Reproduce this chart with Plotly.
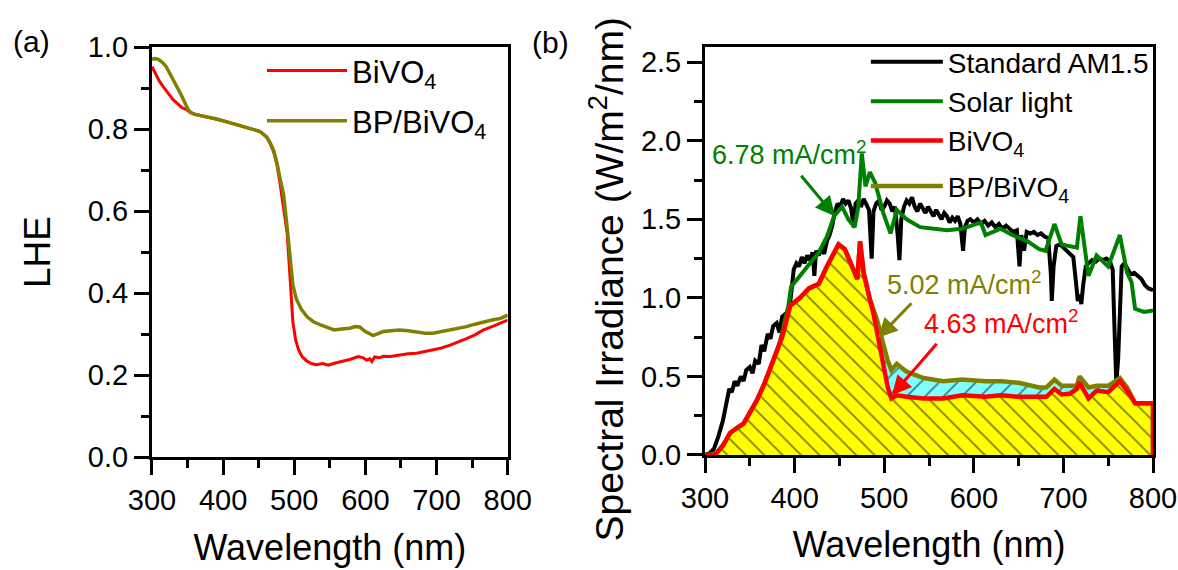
import plotly.graph_objects as go

# ---------------- Panel (a): LHE ----------------
lhe_wl_bivo4 = [300, 305, 310, 316, 322, 330, 336, 342, 348, 354, 360, 370, 380, 390, 400, 415, 430, 445,
                452, 461, 466, 471, 476, 480, 485, 490, 494, 498, 502, 506, 511, 517, 524, 531, 540, 548,
                555, 565, 578, 590, 597, 602, 606, 609, 613, 620, 625, 635, 648, 660, 672, 685, 695, 707,
                719, 730, 742, 754, 766, 778, 790, 800]
lhe_bivo4 = [0.952, 0.935, 0.918, 0.903, 0.890, 0.871, 0.862, 0.852, 0.848, 0.840, 0.836, 0.832, 0.829,
             0.825, 0.820, 0.813, 0.806, 0.798, 0.794, 0.781, 0.765, 0.745, 0.710, 0.668, 0.600, 0.546,
             0.440, 0.330, 0.285, 0.262, 0.245, 0.235, 0.228, 0.225, 0.228, 0.224, 0.228, 0.232, 0.238,
             0.245, 0.242, 0.236, 0.240, 0.233, 0.244, 0.242, 0.246, 0.245, 0.249, 0.252, 0.253, 0.258,
             0.261, 0.266, 0.273, 0.280, 0.289, 0.298, 0.310, 0.318, 0.326, 0.334]

lhe_wl_bp = [300, 305, 309, 315, 320, 325, 330, 336, 342, 347, 351, 355, 360, 370, 380, 390, 400, 415, 430,
             445, 452, 461, 466, 471, 476, 480, 485, 490, 494, 498, 503, 510, 518, 527, 537, 546, 556, 566,
             578, 586, 592, 600, 606, 611, 616, 625, 636, 648, 660, 672, 684, 695, 707, 719, 730, 742, 754,
             766, 778, 790, 800]
lhe_bp = [0.970, 0.972, 0.970, 0.962, 0.952, 0.937, 0.920, 0.900, 0.880, 0.862, 0.847, 0.840, 0.836, 0.832,
          0.829, 0.825, 0.820, 0.813, 0.806, 0.798, 0.794, 0.781, 0.767, 0.748, 0.715, 0.680, 0.640, 0.560,
          0.480, 0.420, 0.385, 0.360, 0.342, 0.330, 0.322, 0.316, 0.310, 0.312, 0.314, 0.318, 0.317, 0.306,
          0.300, 0.296, 0.300, 0.306, 0.308, 0.310, 0.308, 0.305, 0.302, 0.302, 0.306, 0.310, 0.314, 0.318,
          0.324, 0.330, 0.334, 0.338, 0.346]

# ---------------- Panel (b): spectral irradiance ----------------
am15_wl = [300, 305, 310, 315, 320, 324, 327, 330, 333, 336, 340, 343, 346, 350, 353, 356, 360, 363, 366,
           370, 373, 376, 380, 383, 386, 390, 393, 396, 399, 402, 405, 408, 411, 414, 417, 420, 422, 424,
           427, 430, 433, 436, 439, 442, 445, 448, 451, 454, 457, 460, 463, 466, 468, 471, 474, 477, 480,
           483, 486, 488, 491, 494, 497, 500, 503, 506, 509, 512, 515, 517, 519, 522, 525, 528, 531, 534,
           537, 540, 543, 546, 549, 552, 555, 558, 561, 564, 567, 570, 573, 576, 579, 582, 585, 588, 590,
           593, 596, 600, 604, 608, 612, 616, 620, 624, 628, 632, 636, 640, 644, 648, 651, 653, 656, 659,
           663, 667, 671, 675, 679, 683, 686, 687, 689, 692, 696, 700, 704, 708, 711, 714, 716, 718, 720,
           722, 725, 728, 732, 736, 740, 744, 748, 752, 755, 757, 759, 761, 763, 765, 768, 771, 775, 779,
           783, 787, 791, 795, 800]
am15 = [0.00, 0.01, 0.04, 0.12, 0.22, 0.32, 0.42, 0.40, 0.47, 0.44, 0.50, 0.47, 0.54, 0.56, 0.52, 0.60,
        0.58, 0.70, 0.66, 0.77, 0.74, 0.82, 0.84, 0.78, 0.88, 0.90, 0.86, 1.02, 1.18, 1.22, 1.20, 1.26,
        1.22, 1.27, 1.24, 1.29, 1.14, 1.30, 1.27, 1.32, 1.28, 1.36, 1.40, 1.46, 1.55, 1.60, 1.58, 1.63,
        1.60, 1.62, 1.57, 1.45, 1.60, 1.62, 1.58, 1.63, 1.60, 1.56, 1.25, 1.55, 1.60, 1.62, 1.56, 1.58,
        1.62, 1.60, 1.55, 1.58, 1.40, 1.24, 1.50, 1.58, 1.62, 1.60, 1.64, 1.58, 1.55, 1.60, 1.57, 1.54,
        1.58, 1.55, 1.52, 1.56, 1.53, 1.50, 1.54, 1.52, 1.48, 1.51, 1.49, 1.52, 1.47, 1.30, 1.45, 1.49,
        1.50, 1.48, 1.50, 1.47, 1.49, 1.46, 1.48, 1.45, 1.47, 1.44, 1.46, 1.44, 1.42, 1.43, 1.20, 1.40,
        1.30, 1.42, 1.41, 1.42, 1.40, 1.41, 1.39, 1.38, 1.15, 0.98, 1.20, 1.33, 1.34, 1.32, 1.30, 1.28,
        1.26, 1.10, 0.98, 1.02, 0.96, 1.08, 1.20, 1.22, 1.24, 1.23, 1.25, 1.24, 1.25, 1.23, 1.18, 0.80,
        0.46, 0.60, 1.00, 1.20, 1.22, 1.19, 1.15, 1.16, 1.14, 1.12, 1.08, 1.06, 1.05]

solar_wl = [305, 315, 325, 336, 347, 355, 362, 373, 384, 393, 396, 406, 414, 427, 436, 444, 453, 460, 467,
            471, 475, 479, 484, 490, 499, 507, 514, 525, 540, 562, 570, 587, 608, 613, 630, 643, 660, 673,
            680, 690, 698, 715, 719, 728, 737, 750, 763, 771, 776, 780, 790, 800]
solar = [0.00, 0.02, 0.08, 0.13, 0.20, 0.30, 0.36, 0.52, 0.73, 0.95, 1.07, 1.14, 1.20, 1.29, 1.39, 1.52,
         1.58, 1.50, 1.45, 1.58, 1.92, 1.71, 1.80, 1.73, 1.54, 1.41, 1.56, 1.50, 1.45, 1.44, 1.43, 1.44,
         1.48, 1.40, 1.44, 1.40, 1.36, 1.31, 1.30, 1.47, 1.34, 1.32, 1.52, 1.14, 1.27, 1.20, 1.40, 1.16,
         1.10, 0.93, 0.91, 0.92]

irr_wl = [300, 311, 320, 328, 335, 343, 350, 358, 366, 374, 386, 395, 406, 416, 427, 436, 449, 456, 466,
          470, 473, 477, 484, 488, 492, 496, 500, 504, 508, 514, 525, 544, 566, 587, 613, 630, 650, 673,
          681, 690, 698, 707, 715, 718, 728, 737, 750, 763, 771, 780, 790, 797, 800, 800]
irr_bivo4 = [0.00, 0.00, 0.06, 0.14, 0.17, 0.20, 0.27, 0.35, 0.45, 0.57, 0.75, 0.95, 1.00, 1.06, 1.09,
             1.20, 1.34, 1.31, 1.16, 1.12, 1.36, 1.16, 0.99, 0.90, 0.78, 0.65, 0.52, 0.43, 0.36, 0.38,
             0.37, 0.36, 0.36, 0.38, 0.37, 0.38, 0.37, 0.37, 0.37, 0.42, 0.385, 0.39, 0.42, 0.46, 0.36,
             0.41, 0.40, 0.47, 0.41, 0.33, 0.33, 0.33, 0.33, 0.00]
irr_bp = [0.00, 0.00, 0.06, 0.14, 0.17, 0.20, 0.27, 0.35, 0.45, 0.57, 0.75, 0.95, 1.00, 1.06, 1.09,
          1.20, 1.34, 1.31, 1.16, 1.12, 1.36, 1.16, 0.99, 0.93, 0.86, 0.77, 0.68, 0.60, 0.54, 0.58,
          0.53, 0.49, 0.47, 0.48, 0.47, 0.47, 0.46, 0.43, 0.43, 0.48, 0.44, 0.44, 0.44, 0.50, 0.43,
          0.44, 0.44, 0.49, 0.43, 0.33, 0.33, 0.33, 0.33, 0.00]

x_ticks_a = [300, 400, 500, 600, 700, 800]
y_ticks_a = [0.0, 0.2, 0.4, 0.6, 0.8, 1.0]
y_ticks_b = [0.0, 0.5, 1.0, 1.5, 2.0, 2.5]

FONT = "Liberation Sans, Arial, sans-serif"
RED, OLIVE, GREEN = "#FF0000", "#808000", "#008000"

fig = go.Figure()

# panel (a)
fig.add_trace(go.Scatter(x=lhe_wl_bivo4, y=lhe_bivo4, mode="lines", name="BiVO<sub>4</sub>",
                         line=dict(color=RED, width=3), xaxis="x", yaxis="y",
                         legend="legend", legendgroup="a1"))
fig.add_trace(go.Scatter(x=lhe_wl_bp, y=lhe_bp, mode="lines", name="BP/BiVO<sub>4</sub>",
                         line=dict(color=OLIVE, width=3.5), xaxis="x", yaxis="y",
                         legend="legend", legendgroup="a2"))

# panel (b)
fig.add_trace(go.Scatter(x=am15_wl, y=am15, mode="lines", name="Standard AM1.5",
                         line=dict(color="black", width=4), xaxis="x2", yaxis="y2",
                         legend="legend2", legendgroup="b1", legendrank=1))
fig.add_trace(go.Scatter(x=solar_wl, y=solar, mode="lines", name="Solar light",
                         line=dict(color=GREEN, width=4), xaxis="x2", yaxis="y2",
                         legend="legend2", legendgroup="b1", legendrank=2))
fig.add_trace(go.Scatter(x=irr_wl, y=irr_bivo4, mode="lines", showlegend=False,
                         line=dict(color=RED, width=0), fill="tozeroy", fillcolor="#FFFF00",
                         fillpattern=dict(shape="\\", fgcolor="black", bgcolor="#FFFF00",
                                          size=13, solidity=0.14),
                         xaxis="x2", yaxis="y2", hoverinfo="skip"))
fig.add_trace(go.Scatter(x=irr_wl, y=irr_bp, mode="lines", showlegend=False,
                         line=dict(color=OLIVE, width=0), fill="tonexty", fillcolor="#80FFFF",
                         fillpattern=dict(shape="/", fgcolor="black", bgcolor="#80FFFF",
                                          size=13, solidity=0.14),
                         xaxis="x2", yaxis="y2", hoverinfo="skip"))
fig.add_trace(go.Scatter(x=irr_wl, y=irr_bp, mode="lines", name="BP/BiVO<sub>4</sub>",
                         line=dict(color=OLIVE, width=4.5), xaxis="x2", yaxis="y2",
                         legend="legend2", legendgroup="b2", legendrank=4))
fig.add_trace(go.Scatter(x=irr_wl, y=irr_bivo4, mode="lines", name="BiVO<sub>4</sub>",
                         line=dict(color=RED, width=4.5), xaxis="x2", yaxis="y2",
                         legend="legend2", legendgroup="b1", legendrank=3))

axis_common = dict(showgrid=False, zeroline=False, showline=True, linecolor="black", linewidth=3,
                   mirror=True, ticks="outside", ticklen=15, tickwidth=3, tickcolor="black",
                   automargin=False,
                   tickfont=dict(family=FONT, size=29, color="black"))

fig.update_layout(
    width=1178, height=570, margin=dict(l=0, r=0, t=0, b=0, autoexpand=False),
    paper_bgcolor="white", plot_bgcolor="white",
    font=dict(family=FONT, color="black"),
    xaxis=dict(domain=[0.129, 0.431], range=[300, 800], tickvals=x_ticks_a, anchor="y",
               minor=dict(dtick=50, ticks="outside", ticklen=8, tickwidth=3, tickcolor="black"),
               title=dict(text="Wavelength (nm)", font=dict(family=FONT, size=36), standoff=20),
               **axis_common),
    yaxis=dict(domain=[0.1982, 0.9175], range=[0, 1.0], tickvals=y_ticks_a, tickformat=".1f",
               anchor="x",
               minor=dict(dtick=0.1, ticks="outside", ticklen=8, tickwidth=3, tickcolor="black"),
               title=dict(text="LHE", font=dict(family=FONT, size=37), standoff=26),
               **axis_common),
    xaxis2=dict(domain=[0.5985, 0.9788], range=[300, 800], tickvals=x_ticks_a, anchor="y2",
                minor=dict(dtick=50, ticks="outside", ticklen=8, tickwidth=3, tickcolor="black"),
                title=dict(text="Wavelength (nm)", font=dict(family=FONT, size=36), standoff=20),
                **axis_common),
    yaxis2=dict(domain=[0.2018, 0.9184], range=[0, 2.6], tickvals=y_ticks_b, tickformat=".1f",
                anchor="x2",
                minor=dict(dtick=0.25, ticks="outside", ticklen=8, tickwidth=3, tickcolor="black"),
                **axis_common),
    legend=dict(x=0.2224, y=0.923, xanchor="left", yanchor="top", bgcolor="rgba(0,0,0,0)",
                font=dict(family=FONT, size=31, color="black"), tracegroupgap=7, itemwidth=80),
    legend2=dict(x=0.735, y=0.935, xanchor="left", yanchor="top", bgcolor="rgba(0,0,0,0)",
                 font=dict(family=FONT, size=28, color="black"), tracegroupgap=6, itemwidth=72),
    annotations=[
        dict(text="(a)", x=0.027, y=0.928, xref="paper", yref="paper", showarrow=False,
             xanchor="center", yanchor="middle", font=dict(size=30, family=FONT)),
        dict(text="(b)", x=0.4677, y=0.926, xref="paper", yref="paper", showarrow=False,
             xanchor="center", yanchor="middle", font=dict(size=30, family=FONT)),
        dict(text="Spectral Irradiance (W/m<sup>2</sup>/nm)", x=0.515, y=0.509, xref="paper",
             yref="paper", textangle=-90, showarrow=False, xanchor="center", yanchor="middle",
             font=dict(size=39, family=FONT)),
        dict(text="6.78 mA/cm<sup>2</sup>", x=0.6027, y=0.7316, xref="paper", yref="paper",
             xanchor="left", yanchor="middle", showarrow=False,
             font=dict(size=27, family=FONT, color=GREEN)),
        dict(text="5.02 mA/cm<sup>2</sup>", x=0.7513, y=0.5035, xref="paper", yref="paper",
             xanchor="left", yanchor="middle", showarrow=False,
             font=dict(size=27, family=FONT, color=OLIVE)),
        dict(text="4.63 mA/cm<sup>2</sup>", x=0.7827, y=0.4351, xref="paper", yref="paper",
             xanchor="left", yanchor="middle", showarrow=False,
             font=dict(size=27, family=FONT, color=RED)),
        dict(text="", x=445, y=1.52, xref="x2", yref="y2", showarrow=True, ax=-35, ay=-42,
             arrowhead=2, arrowsize=1.3, arrowwidth=3, arrowcolor=GREEN),
        dict(text="", x=493, y=0.746, xref="x2", yref="y2", showarrow=True, ax=35, ay=-36,
             arrowhead=2, arrowsize=1.3, arrowwidth=3, arrowcolor=OLIVE),
        dict(text="", x=508.7, y=0.38, xref="x2", yref="y2", showarrow=True, ax=46, ay=-53,
             arrowhead=2, arrowsize=1.3, arrowwidth=3, arrowcolor=RED),
    ],
)

fig.write_html("out.html")
